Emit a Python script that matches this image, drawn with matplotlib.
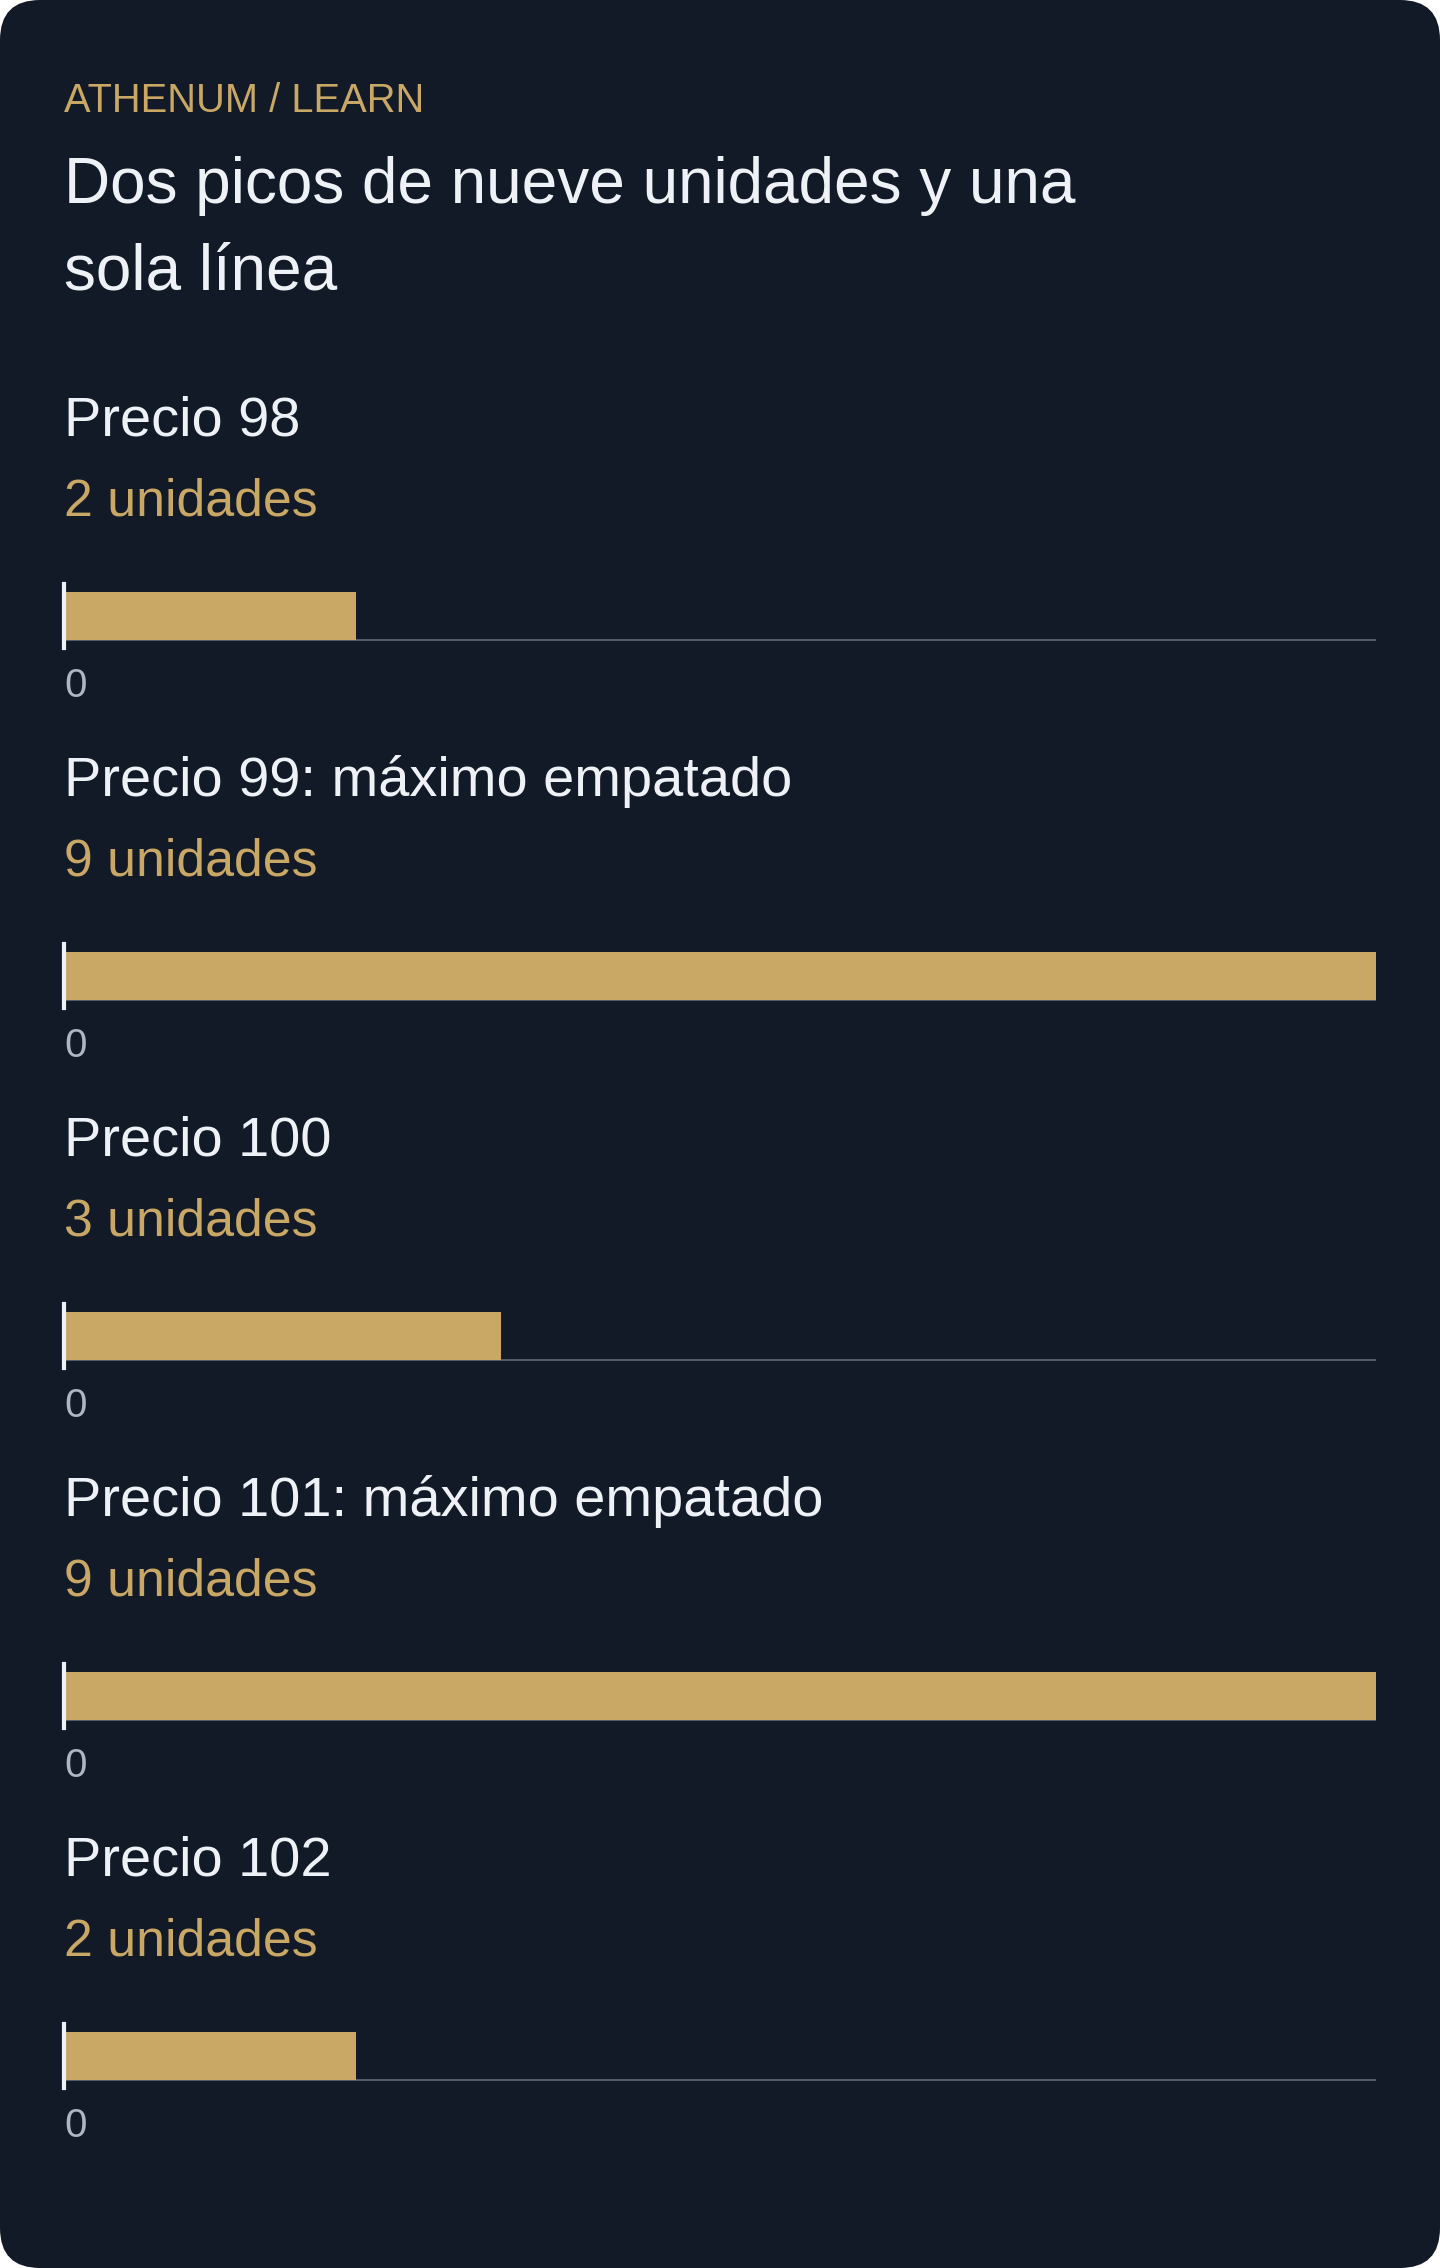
import matplotlib
matplotlib.use("Agg")
import matplotlib.pyplot as plt
from matplotlib.patches import FancyBboxPatch

# ---- data ----
prices = [98, 99, 100, 101, 102]
units = [2, 9, 3, 9, 2]
row_titles = ["Precio 98", "Precio 99: máximo empatado", "Precio 100",
              "Precio 101: máximo empatado", "Precio 102"]
value_labels = [f"{u} unidades" for u in units]
tick_label = "0"
kicker = "ATHENUM / LEARN"
title_lines = ["Dos picos de nueve unidades y una", "sola línea"]

# ---- style ----
W, H = 1440, 2268
DPI = 100
BG = "#131a27"
WHITE = "#eef2f7"
GOLD = "#c9a866"
GRAY_TXT = "#aeb6c2"
BASE = "#5f6b7a"

plt.rcParams['font.family'] = ['Liberation Sans', 'DejaVu Sans']

fig = plt.figure(figsize=(W / DPI, H / DPI), dpi=DPI)
fig.patch.set_facecolor("white")

card = FancyBboxPatch((0, 0), W, H, boxstyle="round,pad=0,rounding_size=40",
                      transform=None, facecolor=BG, edgecolor="none", zorder=-5)
fig.patches.append(card)


def fy(y):
    return 1 - y / H


def fx(x):
    return x / W


fig.text(fx(64), fy(112), kicker, color=GOLD, fontsize=28.7, va="baseline", ha="left")
fig.text(fx(64), fy(203), title_lines[0], color=WHITE, fontsize=46, va="baseline", ha="left")
fig.text(fx(64), fy(290), title_lines[1], color=WHITE, fontsize=46, va="baseline", ha="left")

x0, x1 = 64, 1376
vmax = max(units)
step = 360
for i, (t, v, lab) in enumerate(zip(row_titles, units, value_labels)):
    off = step * i
    fig.text(fx(64), fy(436 + off), t, color=WHITE, fontsize=40.3, va="baseline", ha="left")
    fig.text(fx(64), fy(516 + off), lab, color=GOLD, fontsize=37.4, va="baseline", ha="left")
    top, bottom = 584 + off, 648 + off
    ax = fig.add_axes([fx(x0), fy(bottom), (x1 - x0) / W, (bottom - top) / H])
    ax.set_zorder(2)
    ax.patch.set_visible(False)
    ax.barh([0.5], [v], height=1.0, left=0, color=GOLD, edgecolor="none", zorder=1)
    ax.axhline(0, xmin=0, xmax=1, color=BASE, lw=1.2, zorder=0.5)
    ax.set_xlim(0, vmax)
    ax.set_ylim(-8 / 48, 1 + 8 / 48)
    for s in ["top", "right", "bottom"]:
        ax.spines[s].set_visible(False)
    ax.spines["left"].set_color(WHITE)
    ax.spines["left"].set_linewidth(3.0)
    ax.spines["left"].set_zorder(3)
    ax.set_xticks([])
    ax.set_yticks([])
    fig.text(fx(64), fy(697 + off), tick_label, color=GRAY_TXT, fontsize=29,
             va="baseline", ha="left")

fig.savefig("out.png", dpi=DPI, facecolor=fig.get_facecolor())
